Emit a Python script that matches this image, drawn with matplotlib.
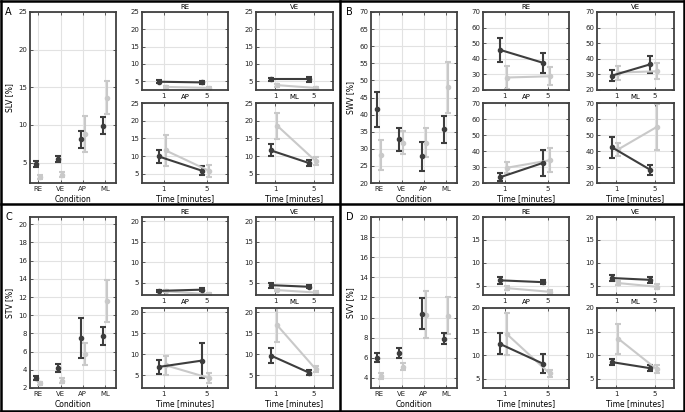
import numpy as np
import matplotlib
matplotlib.use('Agg')
import matplotlib.pyplot as plt
from matplotlib.lines import Line2D

plt.rcParams['font.family'] = ['Liberation Sans Narrow', 'DejaVu Sans']
plt.rcParams['font.size'] = 5

conditions = ['RE', 'VE', 'AP', 'ML']
times = [1, 5]

# SLV
slv_dark = [4.8, 5.5, 8.1, 9.9]
slv_dark_err = [0.4, 0.4, 1.15, 1.1]
slv_light = [3.1, 3.4, 8.8, 13.6]
slv_light_err = [0.3, 0.3, 2.35, 2.2]
slv_t_dark = [[4.8, 4.6], [5.5, 5.5], [9.9, 5.9], [11.6, 8.0]]
slv_t_dark_err = [[0.5, 0.4], [0.5, 0.7], [1.8, 1.2], [1.7, 0.8]]
slv_t_light = [[3.3, 3.0], [3.8, 3.0], [11.6, 5.9], [18.6, 8.6]]
slv_t_light_err = [[0.3, 0.3], [0.4, 0.4], [4.3, 1.7], [3.7, 1.2]]

# SWV
swv_dark = [41.5, 32.8, 27.8, 35.7]
swv_dark_err = [5.0, 3.3, 4.2, 3.9]
swv_light = [28.2, 31.8, 31.8, 48.0]
swv_light_err = [4.5, 3.3, 4.2, 7.5]
swv_t_dark = [[45.8, 37.5], [29.2, 36.5], [23.5, 32.5], [42.3, 28.2]]
swv_t_dark_err = [[7.8, 6.3], [3.4, 5.6], [2.5, 8.2], [6.5, 2.9]]
swv_t_light = [[28.0, 28.8], [31.2, 32.0], [29.5, 34.2], [41.0, 55.0]]
swv_t_light_err = [[7.2, 5.9], [4.5, 5.0], [3.5, 7.6], [4.0, 14.2]]

# STV
stv_dark = [3.1, 4.2, 7.5, 7.7]
stv_dark_err = [0.2, 0.4, 2.15, 1.0]
stv_light = [2.5, 2.8, 5.7, 11.6]
stv_light_err = [0.2, 0.3, 1.2, 2.3]
stv_t_dark = [[3.0, 3.3], [4.4, 4.0], [7.0, 8.5], [9.7, 5.6]]
stv_t_dark_err = [[0.3, 0.4], [0.6, 0.4], [1.6, 4.1], [1.7, 0.6]]
stv_t_light = [[2.9, 2.2], [3.2, 2.6], [7.4, 4.4], [16.9, 6.5]]
stv_t_light_err = [[0.2, 0.2], [0.3, 0.3], [2.2, 1.1], [4.0, 0.8]]

# SVV
svv_dark = [6.0, 6.5, 10.4, 7.9]
svv_dark_err = [0.45, 0.5, 1.55, 0.55]
svv_light = [4.2, 5.1, 10.3, 10.2]
svv_light_err = [0.3, 0.35, 2.35, 1.8]
svv_t_dark = [[6.2, 5.8], [6.7, 6.3], [12.4, 8.2], [8.5, 7.2]]
svv_t_dark_err = [[0.75, 0.4], [0.7, 0.7], [2.2, 2.1], [0.6, 0.6]]
svv_t_light = [[4.5, 3.7], [5.6, 4.8], [14.5, 6.1], [13.5, 7.0]]
svv_t_light_err = [[0.4, 0.4], [0.4, 0.5], [4.4, 0.8], [3.2, 0.9]]

DARK = '#3d3d3d'
LIGHT = '#c9c9c9'
W, H = 685, 412

fig = plt.figure(figsize=(6.85, 4.12), dpi=100)


def box(x0, y0, x1, y1):
    return [x0 / W, 1 - y1 / H, (x1 - x0) / W, (y1 - y0) / H]


def style(ax):
    ax.grid(True, color='#e2e2e2', lw=0.8)
    ax.set_axisbelow(True)
    for s in ax.spines.values():
        s.set_color('#404040')
        s.set_linewidth(1.3)
    ax.tick_params(direction='in', length=2, width=0.6, top=True, right=True,
                   pad=2, labelsize=5, colors='#404040', labelcolor='#222222')


def draw_panel(ox, oy, letter, ylabel, dark, dark_err, light, light_err,
               t_dark, t_dark_err, t_light, t_light_err,
               ylim, yticks, ylim_s, yticks_s):
    fig.text((ox + 5) / W, 1 - (oy + 12) / H, letter, fontsize=7, va='center')
    ax = fig.add_axes(box(ox + 30, oy + 12, ox + 116, oy + 183))
    style(ax)
    x = np.arange(1, 5)
    ax.errorbar(x + 0.08, light, yerr=light_err, fmt='o', color=LIGHT, ms=3,
                elinewidth=1.5, capsize=2.5, capthick=1.5)
    ax.errorbar(x - 0.1, dark, yerr=dark_err, fmt='o', color=DARK, ms=3,
                elinewidth=1.5, capsize=2.5, capthick=1.5)
    ax.set_xlim(0.62, 4.5)
    ax.set_xticks(x)
    ax.set_xticklabels(conditions)
    ax.set_ylim(*ylim)
    ax.set_yticks(yticks)
    ax.set_xlabel('Condition', fontsize=5.5, labelpad=2)
    ax.set_ylabel(ylabel, fontsize=5.5, labelpad=3)

    boxes = [(142, 12, 228, 90), (256, 12, 333, 90),
             (142, 103, 228, 183), (256, 103, 333, 183)]
    for i, (x0, y0, x1, y1) in enumerate(boxes):
        a = fig.add_axes(box(ox + x0, oy + y0, ox + x1, oy + y1))
        style(a)
        t = np.array(times, dtype=float)
        a.errorbar(t + 0.2, t_light[i], yerr=t_light_err[i], fmt='-o',
                   color=LIGHT, ms=3, lw=1.5, elinewidth=1.5, capsize=2.5,
                   capthick=1.5)
        a.errorbar(t - 0.45, t_dark[i], yerr=t_dark_err[i], fmt='-o',
                   color=DARK, ms=3, lw=1.5, elinewidth=1.5, capsize=2.5,
                   capthick=1.5)
        a.set_xlim(-1, 7)
        a.set_xticks(times)
        a.set_ylim(*ylim_s)
        a.set_yticks(yticks_s)
        if i < 2:
            a.set_title(conditions[i], fontsize=5, pad=2)
        else:
            a.set_title(conditions[i], fontsize=5, pad=3)
            a.set_xlabel('Time [minutes]', fontsize=5.5, labelpad=2)


draw_panel(0, 0, 'A', 'SLV [%]', slv_dark, slv_dark_err, slv_light, slv_light_err,
           slv_t_dark, slv_t_dark_err, slv_t_light, slv_t_light_err,
           (2.3, 25), [5, 10, 15, 20, 25], (2.4, 25), [5, 10, 15, 20, 25])
draw_panel(341, 0, 'B', 'SWV [%]', swv_dark, swv_dark_err, swv_light, swv_light_err,
           swv_t_dark, swv_t_dark_err, swv_t_light, swv_t_light_err,
           (20, 70), np.arange(20, 71, 5), (20, 70), np.arange(20, 71, 10))
draw_panel(0, 205, 'C', 'STV [%]', stv_dark, stv_dark_err, stv_light, stv_light_err,
           stv_t_dark, stv_t_dark_err, stv_t_light, stv_t_light_err,
           (2, 20.8), np.arange(2, 21, 2), (2, 21), [5, 10, 15, 20])
draw_panel(341, 205, 'D', 'SVV [%]', svv_dark, svv_dark_err, svv_light, svv_light_err,
           svv_t_dark, svv_t_dark_err, svv_t_light, svv_t_light_err,
           (3, 20), np.arange(4, 21, 2), (3, 20), [5, 10, 15, 20])

# frame and dividers
xs = [1, 684]
ys = [1, 411]
for px, py in [((1, 684), (1, 1)), ((1, 684), (411, 411)),
               ((1, 1), (1, 411)), ((684, 684), (1, 411)),
               ((339.5, 339.5), (1, 411)), ((1, 684), (204.5, 204.5))]:
    fig.add_artist(Line2D([p / W for p in px], [1 - q / H for q in py],
                          transform=fig.transFigure, color='black', lw=1.8))

fig.savefig('out.png', dpi=100)
